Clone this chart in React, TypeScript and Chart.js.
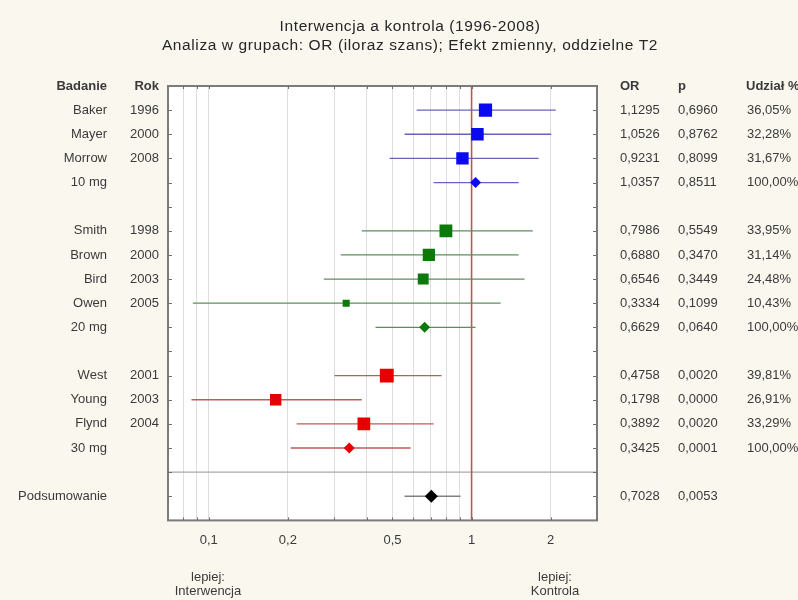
import React, { useEffect, useRef } from "react";
import { Chart, registerables } from "chart.js";

Chart.register(...registerables);

const titleLines = [
  "Interwencja a kontrola (1996-2008)",
  "Analiza w grupach: OR (iloraz szans); Efekt zmienny, oddzielne T2",
];

const studyNames = ["Baker", "Mayer", "Morrow", "10 mg", "Smith", "Brown", "Bird", "Owen", "20 mg", "West", "Young", "Flynd", "30 mg", "Podsumowanie"];
const studyYears = ["1996", "2000", "2008", "", "1998", "2000", "2003", "2005", "", "2001", "2003", "2004", "", ""];
const rowIndex = [0, 1, 2, 3, 5, 6, 7, 8, 9, 11, 12, 13, 14, 16];
const groupIndex = [0, 0, 0, 0, 1, 1, 1, 1, 1, 2, 2, 2, 2, 3];
const isPooled = [false, false, false, true, false, false, false, false, true, false, false, false, true, true];
const oddsRatio = [1.1295, 1.0526, 0.9231, 1.0357, 0.7986, 0.688, 0.6546, 0.3334, 0.6629, 0.4758, 0.1798, 0.3892, 0.3425, 0.7028];
const ciLower = [0.618, 0.556, 0.488, 0.717, 0.382, 0.318, 0.274, 0.087, 0.431, 0.301, 0.086, 0.216, 0.205, 0.556];
const ciUpper = [2.09, 2.01, 1.8, 1.51, 1.71, 1.51, 1.59, 1.29, 1.035, 0.769, 0.382, 0.717, 0.586, 0.908];
const pValues = [0.696, 0.8762, 0.8099, 0.8511, 0.5549, 0.347, 0.3449, 0.1099, 0.064, 0.002, 0.0, 0.002, 0.0001, 0.0053];
const weights: (number | null)[] = [36.05, 32.28, 31.67, 100, 33.95, 31.14, 24.48, 10.43, 100, 39.81, 26.91, 33.29, 100, null];

const xTickValues = [0.08, 0.09, 0.1, 0.2, 0.3, 0.4, 0.5, 0.6, 0.7, 0.8, 0.9, 1, 2, 3];
const xTickLabels: Record<string, string> = { "0.1": "0,1", "0.2": "0,2", "0.5": "0,5", "1": "1", "2": "2" };
const xMin = 0.07;
const xMax = 3;
const rowMin = -1;
const rowMax = 17;
const separatorRow = 15;
const referenceOR = 1;

const columnHeaders = { study: "Badanie", year: "Rok", or: "OR", p: "p", weight: "Udział %" };
const footLeft = ["lepiej:", "Interwencja"];
const footRight = ["lepiej:", "Kontrola"];

const fmt = (v: number, d: number) => v.toFixed(d).replace(".", ",");

export default function App() {
  const ref = useRef<HTMLCanvasElement>(null);

  useEffect(() => {
    document.body.style.margin = "0";
    const canvas = ref.current!;
    const FONT = "'Liberation Sans', Arial, sans-serif";
    const markerColors = ["#0a0af0", "#0b7a0b", "#e60000", "#000000"];
    const lineColors = ["#6464bc", "#5e8c5e", "#c25a5a", "#808080"];

    const datasets: any[] = [];
    for (let g = 0; g < 4; g++) {
      const idx = studyNames.map((_, i) => i).filter((i) => groupIndex[i] === g);
      datasets.push({
        type: "scatter",
        order: 0,
        data: idx.map((i) => ({ x: oddsRatio[i], y: rowIndex[i] })),
        pointStyle: idx.map((i) => (isPooled[i] ? "rectRot" : "rect")),
        pointRadius: idx.map((i) =>
          isPooled[i] ? (g === 3 ? 6.5 : 5.5) : (2.2 * Math.sqrt(weights[i] as number)) / Math.SQRT2
        ),
        backgroundColor: markerColors[g],
        borderColor: markerColors[g],
        borderWidth: 0,
        pointHoverRadius: 0,
      });
    }
    studyNames.forEach((_, i) => {
      datasets.push({
        type: "line",
        order: 1,
        data: [
          { x: ciLower[i], y: rowIndex[i] },
          { x: ciUpper[i], y: rowIndex[i] },
        ],
        borderColor: lineColors[groupIndex[i]],
        borderWidth: 1.3,
        pointRadius: 0,
        showLine: true,
      });
    });
    datasets.push({
      type: "line",
      order: 2,
      data: [
        { x: referenceOR, y: rowMin },
        { x: referenceOR, y: rowMax },
      ],
      borderColor: "#b45a52",
      borderWidth: 1.6,
      pointRadius: 0,
    });
    datasets.push({
      type: "line",
      order: 3,
      data: [
        { x: xMin, y: separatorRow },
        { x: xMax, y: separatorRow },
      ],
      borderColor: "#a8a8a8",
      borderWidth: 1.3,
      pointRadius: 0,
    });

    const forestPlugin = {
      id: "forestDecor",
      beforeDraw(chart: any) {
        const { ctx, chartArea: a } = chart;
        ctx.save();
        ctx.fillStyle = "#faf7ef";
        ctx.fillRect(0, 0, chart.width, chart.height);
        ctx.fillStyle = "#ffffff";
        ctx.fillRect(a.left, a.top, a.right - a.left, a.bottom - a.top);
        ctx.restore();
      },
      afterDraw(chart: any) {
        const { ctx, chartArea: a } = chart;
        const xs = chart.scales.x;
        const ys = chart.scales.y;
        ctx.save();
        // title
        ctx.fillStyle = "#262626";
        ctx.textAlign = "center";
        ctx.textBaseline = "middle";
        ctx.font = `15.5px ${FONT}`;
        (ctx as any).letterSpacing = "0.6px";
        titleLines.forEach((t, k) => ctx.fillText(t, 410, 27 + k * 19));
        (ctx as any).letterSpacing = "0px";
        // frame
        ctx.strokeStyle = "#7c7c7c";
        ctx.lineWidth = 2;
        ctx.strokeRect(a.left, a.top, a.right - a.left, a.bottom - a.top);
        // tick marks
        ctx.lineWidth = 1;
        ctx.strokeStyle = "#6e6e6e";
        for (let r = 0; r < rowMax; r++) {
          const y = Math.round(ys.getPixelForValue(r)) + 0.5;
          ctx.beginPath();
          ctx.moveTo(a.left, y);
          ctx.lineTo(a.left + 4, y);
          ctx.moveTo(a.right - 4, y);
          ctx.lineTo(a.right, y);
          ctx.stroke();
        }
        xTickValues.forEach((v) => {
          const x = Math.round(xs.getPixelForValue(v)) + 0.5;
          ctx.beginPath();
          ctx.moveTo(x, a.top);
          ctx.lineTo(x, a.top + 3);
          ctx.moveTo(x, a.bottom);
          ctx.lineTo(x, a.bottom - 3);
          ctx.stroke();
        });
        // table text
        ctx.fillStyle = "#3a3a3a";
        ctx.textBaseline = "middle";
        const hy = ys.getPixelForValue(rowMin);
        ctx.font = `bold 13px ${FONT}`;
        ctx.textAlign = "right";
        ctx.fillText(columnHeaders.study, 107, hy);
        ctx.fillText(columnHeaders.year, 159, hy);
        ctx.textAlign = "left";
        ctx.fillText(columnHeaders.or, 620, hy);
        ctx.fillText(columnHeaders.p, 678, hy);
        ctx.fillText(columnHeaders.weight, 746, hy);
        ctx.font = `13px ${FONT}`;
        studyNames.forEach((name, i) => {
          const y = ys.getPixelForValue(rowIndex[i]);
          ctx.textAlign = "right";
          ctx.fillText(name, 107, y);
          ctx.fillText(studyYears[i], 159, y);
          ctx.textAlign = "left";
          ctx.fillText(fmt(oddsRatio[i], 4), 620, y);
          ctx.fillText(fmt(pValues[i], 4), 678, y);
          const w = weights[i];
          if (w !== null) ctx.fillText(fmt(w, 2) + "%", 747, y);
        });
        // footer
        ctx.textAlign = "center";
        footLeft.forEach((t, k) => ctx.fillText(t, 208, 577 + k * 14));
        footRight.forEach((t, k) => ctx.fillText(t, 555, 577 + k * 14));
        ctx.restore();
      },
    };

    const chart = new Chart(canvas, {
      type: "scatter",
      data: { datasets },
      options: {
        responsive: false,
        animation: false,
        devicePixelRatio: 1,
        layout: { padding: { left: 168, right: 201, top: 86, bottom: 40 } },
        plugins: {
          legend: { display: false },
          tooltip: { enabled: false },
          title: { display: false },
        },
        scales: {
          x: {
            type: "logarithmic",
            min: xMin,
            max: xMax,
            afterBuildTicks: (scale: any) => {
              scale.ticks = xTickValues.map((v) => ({ value: v }));
            },
            grid: { color: "#dedede", lineWidth: 1, drawTicks: false },
            border: { display: false },
            ticks: {
              autoSkip: false,
              maxRotation: 0,
              padding: 12,
              color: "#3a3a3a",
              font: { family: FONT, size: 13 },
              callback: (v: any) => xTickLabels[String(Number(v))] ?? "",
            },
          },
          y: {
            type: "linear",
            min: rowMin,
            max: rowMax,
            reverse: true,
            display: false,
          },
        },
      } as any,
      plugins: [forestPlugin],
    });
    return () => chart.destroy();
  }, []);

  return (
    <div style={{ width: 798, height: 600 }}>
      <canvas ref={ref} width={798} height={600} style={{ display: "block" }} />
    </div>
  );
}
